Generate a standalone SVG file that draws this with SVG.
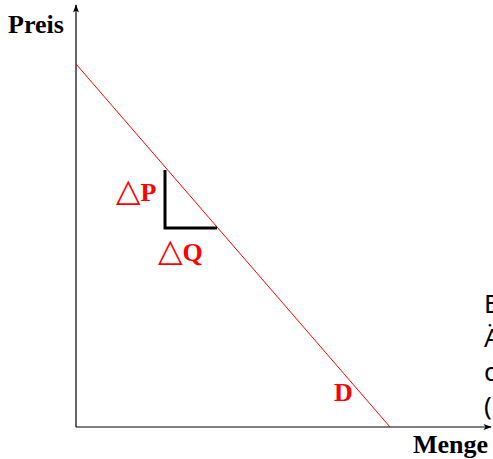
<svg xmlns="http://www.w3.org/2000/svg" width="493" height="459" viewBox="0 0 493 459">
<defs>
<style>
.ax{stroke:#000;stroke-width:1.2;fill:none}
.lbl{font-family:"Liberation Serif",serif;font-weight:bold;font-size:26px}
.red{fill:#ff0000}
.tri{font-family:"DejaVu Sans",sans-serif;font-weight:normal;font-size:32px}
.side{font-family:"Noto Sans","DejaVu Sans",sans-serif;font-size:26px;fill:#000}
</style>
<marker id="arr" viewBox="0 0 10 10" refX="9" refY="5" markerWidth="7" markerHeight="7" orient="auto">
<path d="M0,1.5 L10,5 L0,8.5 L2.5,5 Z" fill="#000"/>
</marker>
</defs>
<rect width="493" height="459" fill="#fff"/>
<g id="connectors">
<line class="ax" x1="76" y1="427" x2="76" y2="5" marker-end="url(#arr)"/>
<line class="ax" x1="76" y1="427" x2="491" y2="427" marker-end="url(#arr)"/>
<line x1="76" y1="64" x2="390" y2="427" stroke="#ff0000" stroke-width="1"/>
<path d="M165,170 V228 H217" stroke="#000" stroke-width="3" fill="none"/>
</g>
<g id="preis"><text class="lbl" x="8" y="33">Preis</text></g>
<g id="menge"><text class="lbl" x="413" y="453">Menge</text></g>
<g id="dp"><text class="lbl red" x="116" y="201"><tspan class="tri">△</tspan>P</text></g>
<g id="dq"><text class="lbl red" x="158" y="261"><tspan class="tri">△</tspan>Q</text></g>
<g id="d"><text class="lbl red" x="334" y="401">D</text></g>
<g id="side">
<text class="side" x="484" y="313">B</text>
<text class="side" x="484" y="347">Ä</text>
<text class="side" x="484" y="381">d</text>
<text class="side" x="484" y="415">(</text>
</g>
</svg>
